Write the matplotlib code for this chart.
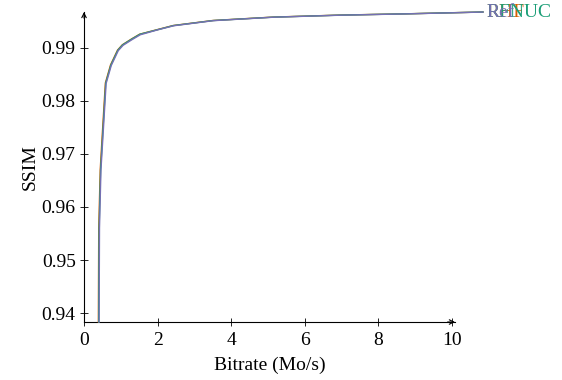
import matplotlib
matplotlib.use("Agg")
import matplotlib.pyplot as plt

plt.rcParams['font.family'] = ['Liberation Serif', 'DejaVu Serif']

# Rate-distortion curves (bitrate in Mo/s, SSIM)
bitrate_rhf = [0.39, 0.40, 0.44, 0.49, 0.58, 0.72, 0.91, 1.04, 1.29, 1.51, 1.98, 2.42, 3.50, 5.13, 6.95, 8.76, 10.84]
ssim_rhf = [0.9383, 0.9560, 0.9670, 0.9730, 0.9834, 0.9868, 0.9896, 0.9906, 0.9917, 0.9926, 0.99345, 0.99424, 0.99519, 0.99583, 0.99621, 0.99645, 0.99679]

bitrate_nuc = [0.40, 0.41, 0.45, 0.50, 0.59, 0.73, 0.92, 1.05, 1.30, 1.52, 1.99, 2.43, 3.51, 5.14, 6.96, 8.77, 10.84]
ssim_nuc = [0.9383, 0.9560, 0.9670, 0.9729, 0.9834, 0.9868, 0.9896, 0.9906, 0.9917, 0.9926, 0.99344, 0.99423, 0.99518, 0.99582, 0.99620, 0.99645, 0.99679]

bitrate_ref = [0.41, 0.42, 0.46, 0.51, 0.60, 0.74, 0.93, 1.06, 1.31, 1.53, 2.00, 2.44, 3.52, 5.15, 6.97, 8.78, 10.84]
ssim_ref = [0.9383, 0.9560, 0.9670, 0.9728, 0.9833, 0.9867, 0.9895, 0.9905, 0.9916, 0.9925, 0.99342, 0.99420, 0.99516, 0.99581, 0.99619, 0.99644, 0.99678]

series = [
    ("RHF", bitrate_rhf, ssim_rhf, "#d95f02"),
    ("RFNUC", bitrate_nuc, ssim_nuc, "#1b9e77"),
    ("Ref", bitrate_ref, ssim_ref, "#7570b3"),
]

x_ticks = [0, 2, 4, 6, 8, 10]
y_ticks = [0.94, 0.95, 0.96, 0.97, 0.98, 0.99]
y_tick_labels = ["0.94", "0.95", "0.96", "0.97", "0.98", "0.99"]

fig = plt.figure(figsize=(5.62, 3.80), dpi=100)
ax = fig.add_axes([0.1495, 0.1526, 0.6601, 0.8158])

for name, xs, ys, color in series:
    ax.plot(xs, ys, color=color, lw=1.0, clip_on=False, zorder=3,
            solid_joinstyle='round')
    ax.text(xs[-1] + 0.1, ys[-1], name, color=color, fontsize=14,
            va='center', ha='left', clip_on=False)

ax.set_xlim(0, 10.08)
ax.set_ylim(0.93830, 0.99679)
ax.set_xticks(x_ticks)
ax.set_xticklabels([str(t) for t in x_ticks])
ax.set_yticks(y_ticks)
ax.set_yticklabels(y_tick_labels)
ax.tick_params(direction='inout', length=6, width=0.6, labelsize=14, pad=3)
ax.tick_params(axis='x', pad=4)

for side in ('top', 'right'):
    ax.spines[side].set_visible(False)
for side in ('left', 'bottom'):
    ax.spines[side].set_linewidth(0.8)

# arrow heads at the ends of the axes
ax.annotate('', xy=(1.0, 0), xytext=(0.98, 0), xycoords='axes fraction',
            arrowprops=dict(arrowstyle='->', lw=0.8, color='black',
                            mutation_scale=8, shrinkA=0, shrinkB=0))
ax.annotate('', xy=(0, 1.0), xytext=(0, 0.98), xycoords='axes fraction',
            arrowprops=dict(arrowstyle='->', lw=0.8, color='black',
                            mutation_scale=8, shrinkA=0, shrinkB=0))

ax.set_xlabel("Bitrate (Mo/s)", fontsize=14, labelpad=6)
ax.set_ylabel("SSIM", fontsize=14, labelpad=2)

fig.savefig("out.png", dpi=100)
